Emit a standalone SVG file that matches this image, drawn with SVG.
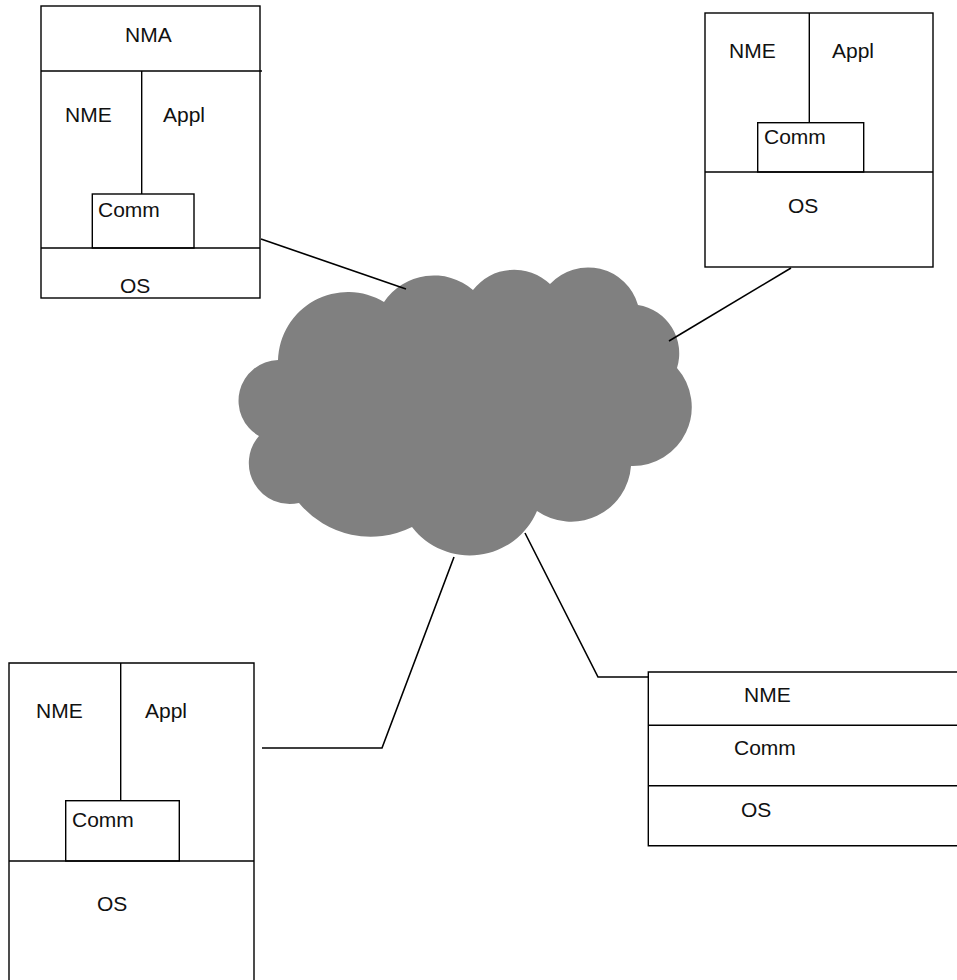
<svg xmlns="http://www.w3.org/2000/svg" width="957" height="980" viewBox="0 0 957 980">
<style>
.b{fill:none;stroke:#000;stroke-width:1.4}
.c{fill:none;stroke:#000;stroke-width:1.6}
text{font-family:"Liberation Sans",Arial,sans-serif;font-size:21px;fill:#111}
</style>
<rect width="957" height="980" fill="#fff"/>
<g id="cloud">
<path fill="#808080" d="M259,436 A40.7,40.7 0 0 1 278,360 A70,70 0 0 1 384,302 A60,60 0 0 1 473,290 A52,52 0 0 1 550,284 A52,52 0 0 1 638,305 A49,49 0 0 1 677,368 A59,59 0 0 1 631,466 A60,60 0 0 1 537,511 A73,73 0 0 1 412,527 A93,93 0 0 1 299,503 A41,41 0 0 1 259,436 Z"/>
</g>
<g id="connectors">
<line class="c" x1="261" y1="239" x2="406" y2="289"/>
<line class="c" x1="791" y1="268" x2="669" y2="341"/>
<polyline class="c" points="262,748 382,748 454,557"/>
<polyline class="c" points="525,533 598,677 648,677"/>
</g>
<g id="node-nma">
<rect class="b" x="41" y="6" width="219" height="292"/>
<line class="b" x1="41" y1="71" x2="262" y2="71"/>
<line class="b" x1="141.7" y1="71" x2="141.7" y2="194"/>
<rect class="b" x="92.3" y="194" width="101.7" height="54"/>
<line class="b" x1="41" y1="248" x2="260" y2="248"/>
<text x="125" y="42">NMA</text>
<text x="65" y="122">NME</text>
<text x="163" y="122">Appl</text>
<text x="98" y="217">Comm</text>
<text x="120" y="293">OS</text>
</g>
<g id="node-tr">
<rect class="b" x="705" y="13" width="228" height="254"/>
<line class="b" x1="809.3" y1="13" x2="809.3" y2="122.7"/>
<rect class="b" x="757.7" y="122.7" width="106" height="49.3"/>
<line class="b" x1="705" y1="172" x2="933" y2="172"/>
<text x="729" y="58">NME</text>
<text x="832" y="58">Appl</text>
<text x="764" y="144">Comm</text>
<text x="788" y="213">OS</text>
</g>
<g id="node-bl">
<path class="b" d="M9,985 L9,663 L254,663 L254,985"/>
<line class="b" x1="120.7" y1="663" x2="120.7" y2="800.7"/>
<rect class="b" x="65.7" y="800.7" width="113.6" height="60.3"/>
<line class="b" x1="9" y1="861" x2="254" y2="861"/>
<text x="36" y="718">NME</text>
<text x="145" y="718">Appl</text>
<text x="72" y="827">Comm</text>
<text x="97" y="911">OS</text>
</g>
<g id="node-br">
<path class="b" d="M962,672 L648.3,672 L648.3,845.7 L962,845.7"/>
<line class="b" x1="648.3" y1="725.3" x2="962" y2="725.3"/>
<line class="b" x1="648.3" y1="785.7" x2="962" y2="785.7"/>
<text x="744" y="702">NME</text>
<text x="734" y="755">Comm</text>
<text x="741" y="817">OS</text>
</g>
</svg>
